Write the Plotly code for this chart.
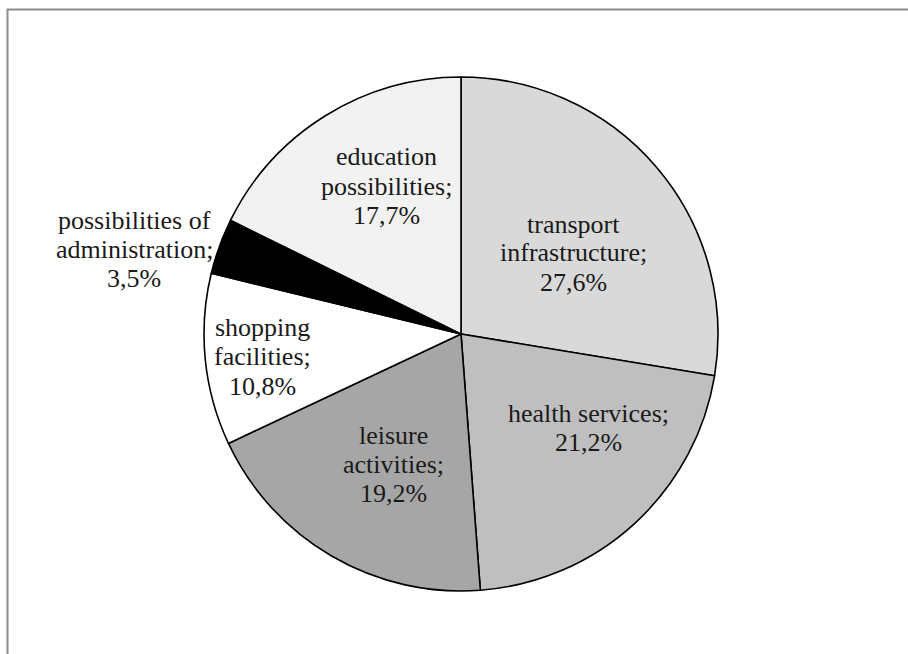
import plotly.graph_objects as go

# Shares of responses by category (%), clockwise from 12 o'clock
categories = [
    "transport infrastructure",
    "health services",
    "leisure activities",
    "shopping facilities",
    "possibilities of administration",
    "education possibilities",
]
shares = [27.6, 21.2, 19.2, 10.8, 3.5, 17.7]

# How each label is broken over lines
label_lines = [
    ["transport", "infrastructure;"],
    ["health services;"],
    ["leisure", "activities;"],
    ["shopping", "facilities;"],
    ["possibilities of", "administration;"],
    ["education", "possibilities;"],
]

slice_colors = ["#d9d9d9", "#bfbfbf", "#a6a6a6", "#ffffff", "#000000", "#f2f2f2"]

W, H = 908, 654
cx, cy, r = 461, 334, 257  # pie centre and radius in pixels

# Centre of each label block in pixels
label_centre = [
    (573, 253),
    (588, 428),
    (393, 464),
    (262, 357),
    (134, 249),
    (386, 186),
]
FONT_SIZE = 26
LINE_STEP = 29  # px between consecutive label lines


def fmt(v):
    return f"{v:.1f}".replace(".", ",") + "%"


fig = go.Figure(
    go.Pie(
        labels=categories,
        values=shares,
        sort=False,
        direction="clockwise",
        rotation=0,
        marker=dict(colors=slice_colors, line=dict(color="#000000", width=1.6)),
        textinfo="none",
        hoverinfo="label+percent",
        showlegend=False,
        domain=dict(
            x=[(cx - r) / W, (cx + r) / W],
            y=[(H - cy - r) / H, (H - cy + r) / H],
        ),
    )
)

for lines, v, (px, py) in zip(label_lines, shares, label_centre):
    rows = lines + [fmt(v)]
    n = len(rows)
    for k, row in enumerate(rows):
        y_px = py + (k - (n - 1) / 2) * LINE_STEP
        fig.add_annotation(
            x=px / W,
            y=1 - y_px / H,
            xref="paper",
            yref="paper",
            xanchor="center",
            yanchor="middle",
            showarrow=False,
            text=row,
            font=dict(family="Liberation Serif", size=FONT_SIZE, color="#1a1a1a"),
        )

# Chart-area frame
fig.add_shape(
    type="rect",
    xref="paper",
    yref="paper",
    x0=7.5 / W,
    x1=1.02,
    y0=-0.02,
    y1=1 - 9.5 / H,
    line=dict(color="#8c8c8c", width=2),
    fillcolor="rgba(0,0,0,0)",
)

fig.update_layout(
    width=W,
    height=H,
    margin=dict(l=0, r=0, t=0, b=0),
    paper_bgcolor="#ffffff",
    plot_bgcolor="#ffffff",
)

fig.write_html("out.html")
